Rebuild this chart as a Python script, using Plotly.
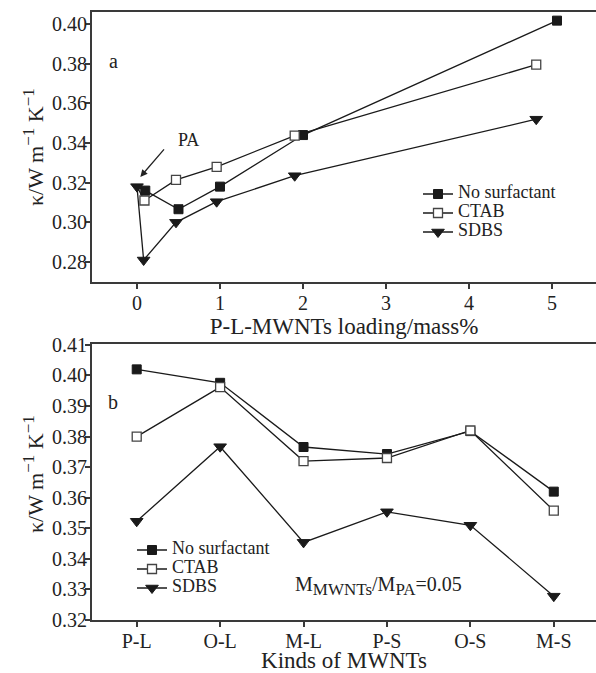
import plotly.graph_objects as go

# ---------------- data ----------------
series_names = ["No surfactant", "CTAB", "SDBS"]

# panel a: P-L-MWNTs loading (mass%) vs thermal conductivity (first point = pure PA)
loading_ns = [0, 0.10, 0.50, 1.00, 2.00, 5.06]
kappa_ns = [0.318, 0.316, 0.3066, 0.318, 0.344, 0.4017]
loading_ctab = [0, 0.09, 0.47, 0.96, 1.90, 4.81]
kappa_ctab = [0.318, 0.311, 0.3214, 0.328, 0.3437, 0.3795]
loading_sdbs = [0, 0.08, 0.47, 0.96, 1.90, 4.81]
kappa_sdbs = [0.318, 0.281, 0.300, 0.3104, 0.3235, 0.352]

# panel b: kinds of MWNTs
kinds = ["P-L", "O-L", "M-L", "P-S", "O-S", "M-S"]
kb_ns = [0.402, 0.3976, 0.3766, 0.3743, 0.3818, 0.362]
kb_ctab = [0.380, 0.3962, 0.372, 0.373, 0.382, 0.3558]
kb_sdbs = [0.3523, 0.3767, 0.3454, 0.3554, 0.351, 0.3278]

ticks_a = [0.28, 0.30, 0.32, 0.34, 0.36, 0.38, 0.40]
ticks_b = [0.32, 0.33, 0.34, 0.35, 0.36, 0.37, 0.38, 0.39, 0.40, 0.41]
xticks_a = [0, 1, 2, 3, 4, 5]

# ---------------- style ----------------
W, H = 596, 673
FONT = "Liberation Serif, Times New Roman, serif"
LINE = "#1a1a1a"
AX = "#3a3a3a"
TXT = "#222222"

def fx(px):
    return px / W

def fy(py):
    return 1 - py / H

styles = {
    "No surfactant": dict(symbol="square", color=LINE, line=dict(color=LINE, width=1), size=9),
    "CTAB": dict(symbol="square", color="white", line=dict(color="#444444", width=1.3), size=9),
    "SDBS": dict(symbol="triangle-down", color=LINE, line=dict(color=LINE, width=1), size=11),
}

def legend_label(name):
    return "<span style='font-size:18px'>" + name + "</span>"

fig = go.Figure()

top_data = [(loading_ns, kappa_ns), (loading_ctab, kappa_ctab), (loading_sdbs, kappa_sdbs)]
bot_data = [kb_ns, kb_ctab, kb_sdbs]

# segments from the shared pure-PA point (shown only by the SDBS triangle)
for name, (xs, ys) in zip(series_names[:2], top_data[:2]):
    fig.add_trace(go.Scatter(
        x=xs[:2], y=ys[:2], mode="lines", line=dict(color=LINE, width=1.3),
        showlegend=False, hoverinfo="skip", xaxis="x", yaxis="y"))

for name, (xs, ys) in zip(series_names, top_data):
    if name != "SDBS":
        xs, ys = xs[1:], ys[1:]
    fig.add_trace(go.Scatter(
        x=xs, y=ys, mode="lines+markers", name=legend_label(name),
        line=dict(color=LINE, width=1.3), marker=styles[name],
        xaxis="x", yaxis="y", legend="legend",
    ))

for name, ys in zip(series_names, bot_data):
    fig.add_trace(go.Scatter(
        x=kinds, y=ys, mode="lines+markers", name=legend_label(name),
        line=dict(color=LINE, width=1.3), marker=styles[name],
        xaxis="x2", yaxis="y2", legend="legend2",
    ))

axis_common = dict(
    showgrid=False, zeroline=False, showline=True, linecolor=AX, linewidth=2,
    ticks="outside", ticklen=5, tickwidth=1.5, tickcolor=AX,
    tickfont=dict(family=FONT, size=20, color=TXT),
    automargin=False,
)

ytitle = ("κ/W m<sup><span style='font-size:17px'>−1</span></sup> "
          "K<sup><span style='font-size:17px'>−1</span></sup>")

fig.update_layout(
    width=W, height=H,
    margin=dict(l=0, r=0, t=0, b=0),
    paper_bgcolor="white", plot_bgcolor="white",
    font=dict(family=FONT, color=TXT),
    xaxis=dict(**axis_common, domain=[fx(92), 1], range=[-0.542, 5.53],
               tickvals=xticks_a, mirror=True, anchor="y", ticklabelstandoff=-3,
               title=dict(text="P-L-MWNTs loading/mass%", font=dict(family=FONT, size=23, color=TXT), standoff=0)),
    yaxis=dict(**axis_common, domain=[fy(282), fy(12)], range=[0.26991, 0.40605],
               tickvals=ticks_a, tickformat=".2f", anchor="x", ticklabelstandoff=-6),
    xaxis2=dict(**axis_common, domain=[fx(92), 1], range=[-0.536, 5.506],
                type="category", mirror=True, anchor="y2", ticklabelstandoff=-3,
                title=dict(text="Kinds of MWNTs", font=dict(family=FONT, size=23, color=TXT), standoff=3)),
    yaxis2=dict(**axis_common, domain=[fy(620), fy(344)], range=[0.32, 0.4103],
                tickvals=ticks_b, tickformat=".2f", anchor="x2", ticklabelstandoff=-6),
    legend=dict(x=fx(418), y=fy(213), xanchor="left", yanchor="middle",
                font=dict(family=FONT, size=11, color=TXT), bgcolor="rgba(0,0,0,0)",
                tracegroupgap=0),
    legend2=dict(x=fx(132), y=fy(569), xanchor="left", yanchor="middle",
                 font=dict(family=FONT, size=11, color=TXT), bgcolor="rgba(0,0,0,0)",
                 tracegroupgap=0),
    showlegend=True,
)

def note(text, px, py, size, **kw):
    fig.add_annotation(text=text, xref="paper", yref="paper", x=fx(px), y=fy(py),
                       showarrow=False, xanchor=kw.pop("xanchor", "center"),
                       yanchor="middle", font=dict(family=FONT, size=size, color=TXT), **kw)

# y-axis titles
for yc in (147, 474):
    note(ytitle, 33, yc, 22, textangle=-90)

note("a", 113, 61, 20)
note("b", 113, 402, 20)
note("PA", 188, 140, 18)
fig.add_annotation(text="", xref="x", yref="y", x=0.04, y=0.3229, ax=25, ay=-29,
                   showarrow=True, arrowhead=2, arrowsize=1.1, arrowwidth=1.3, arrowcolor=TXT)
note("M<sub><span style='font-size:17px'>MWNTs</span></sub>/M<sub><span style='font-size:17px'>PA</span></sub>=0.05",
     293, 586, 20, xanchor="left")

fig.write_html("out.html", config={"displayModeBar": False},
               post_script="document.body.style.margin='0px';")
